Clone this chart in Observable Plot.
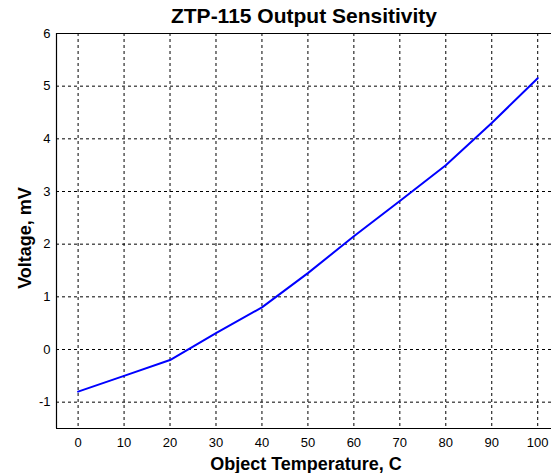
<!DOCTYPE html>
<html>
<head>
<meta charset="utf-8">
<script src="https://cdn.jsdelivr.net/npm/d3@7"></script>
<script src="https://cdn.jsdelivr.net/npm/@observablehq/plot@0.6"></script>
<style>
  html, body { margin: 0; padding: 0; background: #fff; overflow: hidden; }
  #wrap { position: relative; width: 551px; height: 473px; }
  #title { position: absolute; left: 0; top: 4px; width: 608px; text-align: center; line-height: 1;
           font: bold 21px "Liberation Sans", Arial, sans-serif; color: #000; }
  #chart { position: absolute; left: 0; top: 0; }
</style>
</head>
<body>
<div id="wrap">
  <div id="chart"></div>
  <div id="title">ZTP-115 Output Sensitivity</div>
</div>
<script>
const temperature = [0, 10, 20, 30, 40, 50, 60, 70, 80, 90, 100];
const voltage = [-0.8, -0.5, -0.2, 0.31, 0.8, 1.45, 2.15, 2.82, 3.5, 4.3, 5.15];
const xTicks = [0, 10, 20, 30, 40, 50, 60, 70, 80, 90, 100];
const yTicks = [-1, 0, 1, 2, 3, 4, 5, 6];
const xDomain = [-4.7, 103];
const yDomain = [-1.5, 6];

const data = temperature.map((t, i) => ({t, v: voltage[i]}));
const fmt = d => String(d);

const chart = Plot.plot({
  width: 551,
  height: 473,
  marginTop: 33,
  marginBottom: 45,
  marginLeft: 56,
  marginRight: 0,
  style: {fontFamily: "'Liberation Sans', Arial, sans-serif", fontSize: "13px", color: "#000", background: "#fff"},
  x: {domain: xDomain, label: null},
  y: {domain: yDomain, label: null},
  marks: [
    Plot.ruleX(xTicks, {stroke: "#000", strokeDasharray: "3,3", strokeWidth: 1}),
    Plot.ruleY(yTicks.filter(d => d < 6), {stroke: "#000", strokeDasharray: "3,3", strokeWidth: 1}),
    Plot.ruleY([yDomain[0], yDomain[1]], {stroke: "#000", strokeWidth: 1.2}),
    Plot.ruleX([xDomain[0]], {stroke: "#000", strokeWidth: 1.2}),
    Plot.line(data, {x: "t", y: "v", stroke: "#0000ff", strokeWidth: 2}),
    Plot.axisX({ticks: xTicks, tickSize: 0, tickPadding: 9, tickFormat: fmt, label: null, fontSize: 13}),
    Plot.axisY({ticks: yTicks, tickSize: 0, tickPadding: 6, tickFormat: fmt, label: null, fontSize: 13})
  ]
});
document.getElementById("chart").appendChild(chart);

// axis titles as real text inside the SVG
const svg = d3.select(chart);
svg.append("text")
  .attr("x", 306).attr("y", 470)
  .attr("text-anchor", "middle")
  .style("font", "bold 18px 'Liberation Sans', Arial, sans-serif")
  .text("Object Temperature, C");
svg.append("text")
  .attr("transform", "translate(31,238) rotate(-90)")
  .attr("text-anchor", "middle")
  .style("font", "bold 18px 'Liberation Sans', Arial, sans-serif")
  .text("Voltage, mV");
</script>
</body>
</html>
